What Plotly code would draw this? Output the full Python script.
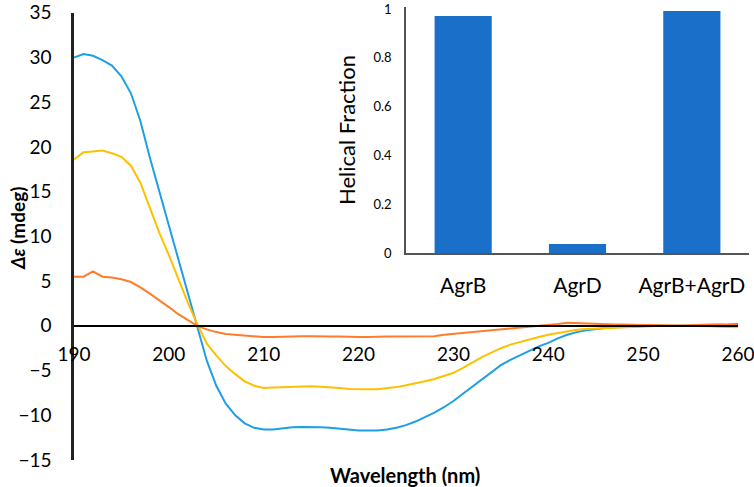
import plotly.graph_objects as go

wavelength = list(range(190, 261))

agrb_agrd = [30.0, 30.4, 30.2, 29.7, 29.1, 27.9, 26.0, 22.9, 18.8, 15.0,
             11.2, 7.4, 3.6, -0.3, -3.9, -6.7, -8.7, -10.0, -10.9, -11.4,
             -11.6, -11.6, -11.45, -11.35, -11.3, -11.3, -11.35, -11.4, -11.5, -11.6,
             -11.7, -11.7, -11.7, -11.6, -11.4, -11.1, -10.7, -10.2, -9.7, -9.1,
             -8.4, -7.6, -6.8, -6.0, -5.2, -4.4, -3.8, -3.3, -2.8, -2.3,
             -1.9, -1.4, -1.0, -0.7, -0.5, -0.35, -0.25, -0.15, -0.1, -0.05,
             0.0, 0.0, 0.0, 0.0, 0.05, 0.05, 0.05, 0.1, 0.1, 0.15, 0.2]

agrb = [18.6, 19.4, 19.5, 19.6, 19.3, 18.9, 17.9, 16.0, 13.2, 10.4,
        7.9, 5.2, 2.6, 0.2, -2.0, -3.3, -4.5, -5.4, -6.2, -6.7,
        -6.95, -6.9, -6.85, -6.8, -6.75, -6.75, -6.8, -6.85, -6.95, -7.05,
        -7.1, -7.1, -7.1, -7.0, -6.85, -6.65, -6.45, -6.2, -5.95, -5.6,
        -5.25, -4.7, -4.1, -3.5, -3.0, -2.5, -2.1, -1.8, -1.5, -1.25,
        -1.0, -0.8, -0.6, -0.45, -0.35, -0.3, -0.25, -0.2, -0.15, -0.1,
        -0.1, -0.05, 0.0, 0.0, 0.0, 0.0, -0.05, -0.05, -0.1, -0.1, -0.15]

agrd = [5.5, 5.5, 6.1, 5.5, 5.4, 5.2, 4.9, 4.3, 3.6, 2.9,
        2.1, 1.3, 0.6, 0.0, -0.4, -0.7, -0.9, -1.0, -1.1, -1.2,
        -1.25, -1.25, -1.2, -1.15, -1.15, -1.15, -1.2, -1.2, -1.2, -1.25,
        -1.25, -1.25, -1.2, -1.2, -1.2, -1.2, -1.2, -1.2, -1.15, -1.0,
        -0.9, -0.8, -0.7, -0.6, -0.5, -0.4, -0.3, -0.25, -0.15, -0.05,
        0.1, 0.2, 0.35, 0.3, 0.25, 0.2, 0.2, 0.15, 0.15, 0.1,
        0.1, 0.1, 0.05, 0.05, 0.05, 0.1, 0.1, 0.15, 0.15, 0.1, 0.1]

x_ticks = [190, 200, 210, 220, 230, 240, 250, 260]
y_ticks = [-15, -10, -5, 0, 5, 10, 15, 20, 25, 30, 35]

bar_labels = ["AgrB", "AgrD", "AgrB+AgrD"]
helical_fraction = [0.971, 0.037, 0.992]
bar_y_ticks = [0, 0.2, 0.4, 0.6, 0.8, 1]

FONT = "Lato"
W, H = 754, 487

fig = go.Figure()
fig.add_trace(go.Scatter(x=wavelength, y=agrb_agrd, mode="lines",
                         line=dict(color="#1E9FE3", width=2), showlegend=False))
fig.add_trace(go.Scatter(x=wavelength, y=agrb, mode="lines",
                         line=dict(color="#FFC000", width=2), showlegend=False))
fig.add_trace(go.Scatter(x=wavelength, y=agrd, mode="lines",
                         line=dict(color="#FF7C2A", width=2), showlegend=False))

fig.add_trace(go.Bar(x=bar_labels, y=helical_fraction, width=0.5,
                     marker=dict(color="#1A6FC9", line=dict(width=0)),
                     xaxis="x2", yaxis="y2", showlegend=False))

# main plot geometry (pixels)
x_left, x_right = 74, 738
y_top, y_bot = 12.8, 460
yd0, yd1 = 1 - y_bot / H, 1 - y_top / H
zero_pos = yd0 + (0 - (-15)) / 50 * (yd1 - yd0)

fig.update_layout(
    width=W, height=H,
    margin=dict(l=0, r=0, t=0, b=0),
    paper_bgcolor="white", plot_bgcolor="rgba(0,0,0,0)",
    font=dict(family=FONT, color="#000000"),
    xaxis=dict(domain=[x_left / W, x_right / W], range=[190, 260],
               tickvals=x_ticks, showgrid=False, zeroline=False,
               showline=True, linecolor="#000000", linewidth=2,
               anchor="free", position=zero_pos, ticks="",
               ticklabelstandoff=11, automargin=False,
               ticklabeloverflow="allow",
               tickfont=dict(size=19, family=FONT)),
    yaxis=dict(domain=[yd0, yd1], range=[-15, 35], tickvals=y_ticks,
               showgrid=False, zeroline=False, showline=True,
               linecolor="#222222", linewidth=2.5, ticks="",
               ticklabelstandoff=16, automargin=False,
               tickfont=dict(size=19, family=FONT)),
    xaxis2=dict(domain=[406 / W, 749 / W], range=[-0.5, 2.5],
                showgrid=False, zeroline=False, showline=True,
                linecolor="#555555", linewidth=1.5, ticks="",
                anchor="y2", ticklabelstandoff=13, automargin=False,
                ticklabeloverflow="allow",
                tickfont=dict(size=21, family=FONT)),
    yaxis2=dict(domain=[1 - 253 / H, 1 - 7 / H], range=[0, 1.008],
                tickvals=bar_y_ticks, showgrid=False, zeroline=False,
                showline=True, linecolor="#555555", linewidth=1.5,
                ticks="", anchor="x2", ticklabelstandoff=10, automargin=False,
                tickfont=dict(size=13, family=FONT),
                title=dict(text="Helical Fraction", standoff=12,
                           font=dict(size=22, family=FONT))),
    bargap=0.5,
)

fig.add_annotation(x=405 / W, y=1 - 475 / H, xref="paper", yref="paper",
                   text="<b>Wavelength (nm)</b>", showarrow=False,
                   font=dict(size=20, family=FONT), xanchor="center", yanchor="middle")
fig.add_annotation(x=17 / W, y=1 - 229 / H, xref="paper", yref="paper",
                   text="<b><i>Δε</i> (mdeg)</b>", showarrow=False, textangle=-90,
                   font=dict(size=19, family=FONT), xanchor="center", yanchor="middle")

fig.write_html("out.html", config={"displayModeBar": False},
               post_script="document.body.style.margin='0';document.body.style.overflow='hidden';")
